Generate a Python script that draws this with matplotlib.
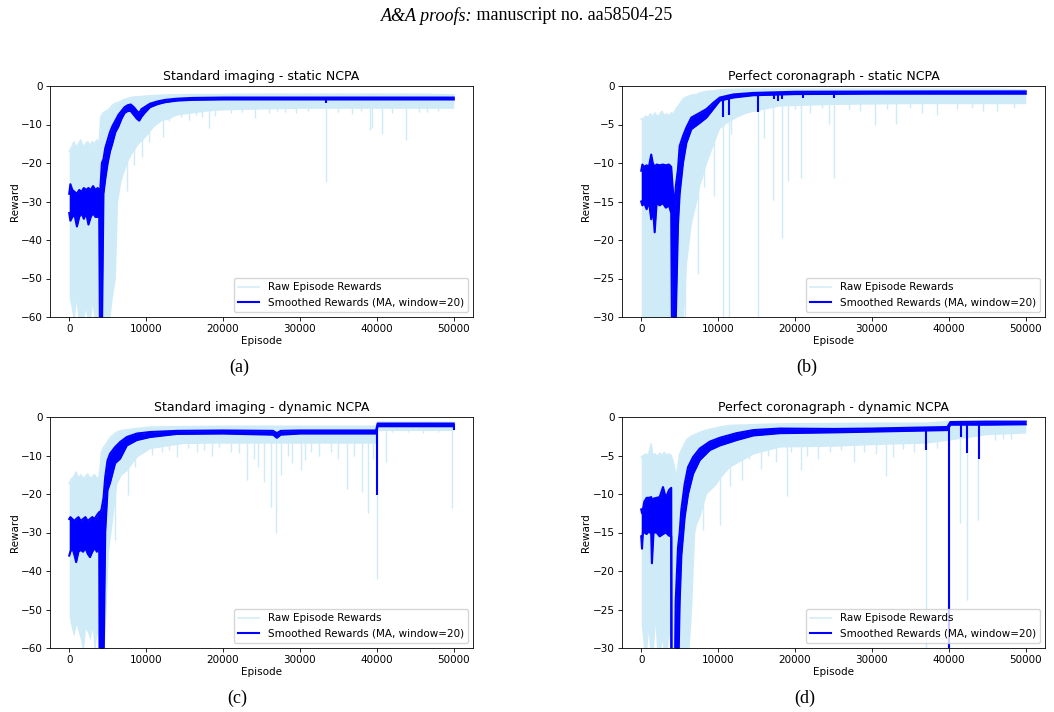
import numpy as np
import matplotlib
matplotlib.use("Agg")
import matplotlib.pyplot as plt

plt.rcParams['font.size'] = 7.5
plt.rcParams['axes.linewidth'] = 0.6
for a in ['xtick', 'ytick']:
    plt.rcParams[a + '.major.size'] = 2.6
    plt.rcParams[a + '.major.width'] = 0.6
    plt.rcParams[a + '.major.pad'] = 2.6

RAW_C = '#cfebf7'   # skyblue at alpha 0.4 on white
SM_C = 'blue'

# ---- (a) Standard imaging - static NCPA ----
A_RAW_X = [0, 300, 600, 900, 1200, 1500, 1800, 2100, 2400, 2700, 3000, 3300, 3600, 3900, 4100, 4400, 4800, 5200,
           5600, 6000, 6300, 6700, 7000, 7500, 8000, 8500, 9000, 9500, 10000, 11000, 12000, 13000, 14000, 16000,
           18000, 20000, 25000, 30000, 35000, 40000, 45000, 50000]
A_RAW_HI = [-17, -16, -14.5, -16, -15, -14, -16, -15, -14.5, -15.5, -14.5, -15, -14, -15, -8, -7, -6.5, -6, -5,
            -4.5, -4.3, -4, -3.6, -3.3, -3, -2.8, -2.8, -2.7, -2.6, -2.5, -2.4, -2.3, -2.3, -2.2, -2.2, -2.2,
            -2.1, -2.1, -2.1, -2.1, -2.1, -2.3]
A_RAW_LO = [-55, -58, -62, -56, -62, -60, -62, -58, -62, -62, -57, -62, -62, -62, -62, -62, -62, -62, -55, -50,
            -30, -25, -23, -20, -18, -16.5, -15, -14, -13, -10.5, -9, -8.5, -7.5, -7, -6.5, -6.2, -6, -5.8,
            -5.8, -5.8, -5.8, -5.8]
A_SPIKE_X = [7510, 8360, 9450, 10330, 12150, 13000, 14500, 15540, 16500, 17200, 18150, 19000, 21000, 22500,
             24200, 26000, 27000, 28000, 29500, 31000, 33400, 35000, 36800, 38000, 39100, 39400, 40630, 42000,
             43750, 45500, 46500, 48000]
A_SPIKE_Y = [-27.4, -20.5, -18.4, -14.5, -13.2, -9, -8, -8.8, -7.5, -8, -11, -7.8, -7, -6.8, -8.4, -7, -6.5,
             -6.8, -7, -6.5, -25, -6.8, -7.4, -6.5, -11.3, -10.8, -12.4, -7, -13.9, -6.8, -6.8, -6.5]
A_SM_X = [0, 150, 400, 700, 1000, 1300, 1600, 1900, 2200, 2500, 2800, 3100, 3400, 3700, 3900, 4000, 4250, 4450,
          4700, 5000, 5300, 5600, 6000, 6400, 6800, 7200, 7600, 8000, 8400, 8800, 9100, 9400, 9800, 10500, 11500,
          12500, 14000, 16000, 20000, 30000, 40000, 50000]
A_SM_HI = [-28, -25.5, -27, -27.5, -28, -27, -27.5, -26.5, -27, -26.5, -27, -26, -27, -26.5, -27, -28, -20, -19,
           -16, -14, -12, -10.5, -9, -7.5, -6.5, -5.5, -5, -4.8, -5.5, -6.5, -7, -6, -5.5, -4.6, -4, -3.6, -3.3,
           -3.1, -3.0, -3.0, -3.0, -3.0]
A_SM_LO = [-33, -35, -34, -33.5, -36.5, -34, -33, -34.5, -33, -36, -34, -33, -34, -34, -33.5, -65, -65, -28,
           -24, -20, -17, -15, -12, -10.5, -8.5, -7, -6.5, -6.5, -7.5, -8.5, -9, -8, -7, -5.5, -4.7, -4.2, -3.8,
           -3.6, -3.5, -3.5, -3.5, -3.5]
A_DIP_X = [33400]
A_DIP_Y = [-4.5]

# ---- (b) Perfect coronagraph - static NCPA ----
B_RAW_X = [0, 300, 600, 900, 1200, 1500, 1800, 2100, 2400, 2700, 3000, 3300, 3600, 3900, 4200, 4500, 4800, 5100,
           5400, 5900, 6500, 7200, 7600, 8500, 9800, 10200, 11100, 12500, 13700, 16000, 18000, 25000, 35000,
           45000, 50000]
B_RAW_HI = [-4.3, -4.2, -3.9, -4.1, -3.6, -4.0, -3.5, -4.0, -3.7, -3.3, -3.9, -3.6, -3.9, -3.5, -3.6, -3.0, -2.6,
            -2.2, -1.7, -1.4, -1.2, -1.1, -0.9, -0.7, -0.6, -0.5, -0.45, -0.42, -0.4, -0.4, -0.4, -0.4, -0.4,
            -0.4, -0.5]
B_RAW_LO = [-32, -32, -32, -32, -32, -32, -32, -32, -32, -32, -32, -32, -32, -32, -32, -32, -32, -32, -32, -23,
            -18, -15, -13, -10, -6.5, -5.5, -4.8, -4.0, -3.5, -3.0, -2.6, -2.4, -2.3, -2.3, -2.3]
B_SPIKE_X = [4870, 5750, 7430, 8190, 9510, 10600, 11350, 11730, 15200, 15930, 17170, 18270, 19030, 20000, 20800,
             22000, 23500, 24430, 25000, 27000, 28500, 30400, 32000, 33100, 35000, 36500, 38400, 41000, 43000,
             44500, 46240, 48500]
B_SPIKE_Y = [-26.5, -32, -24.4, -13.1, -14.3, -32, -32, -6.2, -32, -6.8, -14.8, -19.8, -12.4, -3, -12, -3.5,
             -2.8, -4.9, -12, -3, -3.2, -5.1, -3, -4.9, -2.9, -3.5, -3.8, -3, -2.8, -3.3, -3.3, -2.9]
B_SM_X = [0, 150, 400, 700, 1000, 1300, 1500, 1750, 2000, 2400, 2800, 3200, 3600, 3900, 4000, 4300, 4500, 4780,
          5000, 5430, 5870, 6520, 7600, 8480, 9350, 10220, 11960, 14570, 20000, 30000, 40000, 50000]
B_SM_HI = [-11, -10.2, -10.5, -10.3, -10.5, -8.9, -10, -10.5, -10.2, -10.3, -10.2, -10.3, -10.2, -10.5, -12, -16,
           -13, -10.8, -7.8, -6.5, -5.4, -4.1, -3.5, -3.0, -2.2, -1.5, -1.1, -0.9, -0.75, -0.72, -0.7, -0.7]
B_SM_LO = [-15, -15.5, -15.2, -16, -15, -17.3, -15.5, -19, -15.2, -15.5, -15.2, -15.8, -15.5, -16.5, -33, -33,
           -30, -18, -14, -10, -7.4, -5.6, -4.8, -4.1, -3.0, -1.9, -1.5, -1.2, -1.05, -1.0, -1.0, -1.0]
B_DIP_X = [10600, 11350, 15200, 17270, 17740, 18300, 20970, 25100]
B_DIP_Y = [-4.0, -3.8, -3.4, -1.7, -1.9, -1.7, -1.5, -1.5]

# ---- (c) Standard imaging - dynamic NCPA ----
C_RAW_X = [0, 300, 600, 900, 1200, 1500, 1800, 2100, 2400, 2700, 3000, 3300, 3600, 3900, 4200, 4500, 4800, 5100,
           5500, 6200, 6800, 7500, 8800, 10500, 14800, 20000, 30000, 39900, 40100, 45000, 50000]
C_RAW_HI = [-17.3, -16, -15.5, -14.3, -16, -15, -16, -15.5, -14.8, -16, -15.5, -15, -16, -15.5, -9, -7.8, -7,
            -6, -5, -3.9, -3.5, -3.3, -3, -2.6, -2.5, -2.4, -2.4, -2.4, -1.3, -1.3, -1.4]
C_RAW_LO = [-52, -55, -57, -54, -56, -58, -62, -55, -56, -58, -55, -62, -56, -62, -62, -62, -50, -35, -29,
            -17.3, -15, -13.9, -10.4, -8.2, -6.9, -6.8, -6.8, -6.8, -3.5, -3.5, -3.5]
C_SPIKE_X = [5990, 7640, 8510, 10760, 12000, 13000, 14020, 15500, 16630, 17500, 18500, 19450, 21000, 22060,
             23130, 24000, 24500, 25300, 26180, 26950, 27480, 28500, 29000, 30080, 30600, 31500, 32500, 34000,
             35000, 36070, 37000, 38110, 38890, 39500, 40060, 41140, 42000, 44000, 46000, 48000, 49820]
C_SPIKE_Y = [-32, -20.3, -13, -9.9, -9, -8.5, -10.3, -8, -9, -8.5, -10, -7.7, -9, -9.4, -16.4, -11, -13,
             -16.8, -23.3, -30.2, -15.1, -10, -12, -13.8, -11.2, -9, -10, -9, -11, -18.8, -10, -19.4, -25, -11,
             -42.2, -11.6, -4, -3.8, -4.2, -4, -23.6]
C_SM_X = [0, 150, 400, 700, 900, 1200, 1500, 1800, 2100, 2400, 2700, 3000, 3300, 3600, 3900, 3950, 4200, 4460,
          4680, 4980, 5320, 5970, 6620, 7490, 8790, 10520, 14000, 20000, 26500, 27000, 27500, 30000, 39900, 40100,
          45000, 50000]
C_SM_HI = [-26.5, -26, -26.5, -27, -26.5, -26, -27, -26.5, -26, -27, -26.5, -26, -26.5, -25.5, -24.7, -25, -24,
           -21, -15.6, -11.3, -9.5, -7.8, -6.5, -5.2, -4.3, -3.9, -3.6, -3.5, -3.6, -4.2, -3.6, -3.5, -3.5, -1.7,
           -1.7, -1.7]
C_SM_LO = [-36, -35, -34, -36, -37.7, -35, -34.5, -35, -34, -35.5, -36.4, -35, -34, -35, -33, -65, -65, -65,
           -30, -19, -17, -12, -10.8, -7.4, -6, -5.2, -4.4, -4.3, -4.6, -5.4, -4.6, -4.3, -4.3, -2.4, -2.4, -2.4]
C_DIP_X = [39970, 50000]
C_DIP_Y = [-20.3, -3.5]

# ---- (d) Perfect coronagraph - dynamic NCPA ----
D_RAW_X = [0, 300, 600, 900, 1300, 1500, 1800, 2100, 2400, 2700, 3000, 3300, 3600, 3900, 4200, 4570, 5000, 5870,
           6090, 6500, 6960, 7170, 7610, 8480, 9780, 10220, 11520, 14570, 18040, 25000, 30000, 37000, 40000,
           45000, 50000]
D_RAW_HI = [-5.2, -5.0, -4.8, -5.0, -3.5, -5.0, -4.8, -5.1, -4.7, -5.0, -4.6, -5.0, -4.8, -5.0, -6.0, -7.8, -4.8,
            -3.0, -2.8, -2.5, -2.3, -2.2, -2.0, -1.7, -1.4, -1.3, -1.1, -1.0, -0.9, -0.85, -0.8, -0.8, -0.6,
            -0.55, -0.6]
D_RAW_LO = [-27, -30, -32, -28, -32, -32, -27, -32, -32, -29, -32, -32, -28, -32, -32, -32, -32, -32, -32, -26,
            -15, -14, -13, -10, -8.7, -8, -6.5, -4.8, -3.9, -3.8, -3.6, -3.4, -3.0, -2.3, -2.1]
D_SPIKE_X = [6420, 6640, 8050, 10180, 11500, 12000, 13050, 14000, 15580, 16500, 17500, 18900, 19500, 20710,
             21500, 23010, 24500, 26000, 27650, 29000, 30500, 31860, 32740, 34000, 35500, 37040, 38500, 40040,
             41460, 42350, 43810, 46000, 47000, 48100]
D_SPIKE_Y = [-24.5, -17.7, -14.7, -14, -9, -6, -8.2, -5.5, -6.7, -5, -5.8, -10.3, -4.5, -6.9, -5, -5.4, -4.6,
             -4.3, -5.8, -4.5, -4.8, -7.7, -5.2, -4.2, -4.5, -32, -4, -32, -13.8, -23.8, -13.4, -3, -2.8, -2.8]
D_SM_X = [0, 100, 220, 400, 700, 1000, 1300, 1390, 1600, 2000, 2400, 2830, 3200, 3600, 3900, 3950, 4300, 4480,
          4780, 5000, 5220, 5650, 6090, 6740, 7610, 8910, 10220, 12390, 14570, 18040, 25000, 30000, 39800, 40200,
          45000, 50000]
D_SM_HI = [-12, -12.5, -12, -11, -10.5, -10.5, -10.4, -10.8, -10.6, -10.5, -10.4, -9.1, -10.5, -9.5, -9.2, -40,
           -40, -24, -17, -15, -12, -8.7, -6.5, -5.2, -4.1, -3.2, -2.7, -2.1, -1.7, -1.5, -1.55, -1.5, -1.3,
           -0.65, -0.6, -0.6]
D_SM_LO = [-15.5, -17.1, -15, -15, -15.2, -14.8, -15.2, -19, -15, -15, -15.5, -15.2, -15, -15.4, -15.5, -65,
           -65, -65, -35, -24, -18, -13, -10, -7.4, -5.6, -4.3, -3.7, -3.0, -2.4, -2.1, -2.0, -1.9, -1.7, -1.0,
           -1.0, -0.95]
D_DIP_X = [4000, 37040, 40040, 41590, 42300, 43890]
D_DIP_Y = [-32, -4.3, -32, -2.6, -4.7, -5.4]

TITLES = ['Standard imaging - static NCPA', 'Perfect coronagraph - static NCPA',
          'Standard imaging - dynamic NCPA', 'Perfect coronagraph - dynamic NCPA']
CAPTIONS = ['(a)', '(b)', '(c)', '(d)']
YLIMS = [-60, -30, -60, -30]


def draw_panel(ax, raw_x, raw_hi, raw_lo, sp_x, sp_y, sm_x, sm_hi, sm_lo, dip_x, dip_y, title, ymin):
    # raw episode rewards (dense noisy trace -> band + long spikes)
    ax.fill_between(raw_x, raw_lo, raw_hi, color=RAW_C, lw=0, zorder=1)
    ax.plot(raw_x, raw_hi, color=RAW_C, lw=1.1, label='Raw Episode Rewards', zorder=1.1)
    ax.vlines(sp_x, sp_y, np.interp(sp_x, raw_x, raw_hi), color=RAW_C, lw=1.0, zorder=1.2)
    # moving average
    ax.fill_between(sm_x, sm_lo, sm_hi, color=SM_C, lw=0, zorder=2)
    ax.plot(sm_x, sm_hi, color=SM_C, lw=1.5, label='Smoothed Rewards (MA, window=20)', zorder=2.1)
    ax.plot(sm_x, sm_lo, color=SM_C, lw=1.5, zorder=2.1)
    ax.vlines(dip_x, dip_y, np.interp(dip_x, sm_x, sm_hi), color=SM_C, lw=1.5, zorder=2.2)
    ax.set_xlim(-2500, 52500)
    ax.set_ylim(ymin, 0)
    ax.set_xticks([0, 10000, 20000, 30000, 40000, 50000])
    ax.set_title(title, fontsize=9, pad=4.5)
    ax.set_xlabel('Episode', labelpad=1)
    ax.set_ylabel('Reward', labelpad=1)
    ax.legend(loc='lower right').set_zorder(5)


fig = plt.figure(figsize=(10.54, 7.12), dpi=100)
W, H = 1054, 712
boxes = [(50, 86), (622, 86), (50, 417), (622, 417)]
data = [
    (A_RAW_X, A_RAW_HI, A_RAW_LO, A_SPIKE_X, A_SPIKE_Y, A_SM_X, A_SM_HI, A_SM_LO, A_DIP_X, A_DIP_Y),
    (B_RAW_X, B_RAW_HI, B_RAW_LO, B_SPIKE_X, B_SPIKE_Y, B_SM_X, B_SM_HI, B_SM_LO, B_DIP_X, B_DIP_Y),
    (C_RAW_X, C_RAW_HI, C_RAW_LO, C_SPIKE_X, C_SPIKE_Y, C_SM_X, C_SM_HI, C_SM_LO, C_DIP_X, C_DIP_Y),
    (D_RAW_X, D_RAW_HI, D_RAW_LO, D_SPIKE_X, D_SPIKE_Y, D_SM_X, D_SM_HI, D_SM_LO, D_DIP_X, D_DIP_Y),
]
for i in range(4):
    left, top = boxes[i]
    ax = fig.add_axes([left / W, 1 - (top + 231) / H, 423 / W, 231 / H])
    draw_panel(ax, *data[i], TITLES[i], YLIMS[i])

cap_pos = [(239, 367), (807, 367), (237, 698), (805, 698)]
for (cx, cy), c in zip(cap_pos, CAPTIONS):
    fig.text(cx / W, 1 - cy / H, c, ha='center', va='center', fontsize=13, family='Liberation Serif')

fig.text(472 / W, 1 - 16 / H, 'A&A proofs:', ha='right', va='center', fontsize=13,
         family='Liberation Serif', style='italic')
fig.text(472 / W, 1 - 16 / H, ' manuscript no. aa58504-25', ha='left', va='center', fontsize=13,
         family='Liberation Serif')

fig.savefig('out.png', dpi=100)
